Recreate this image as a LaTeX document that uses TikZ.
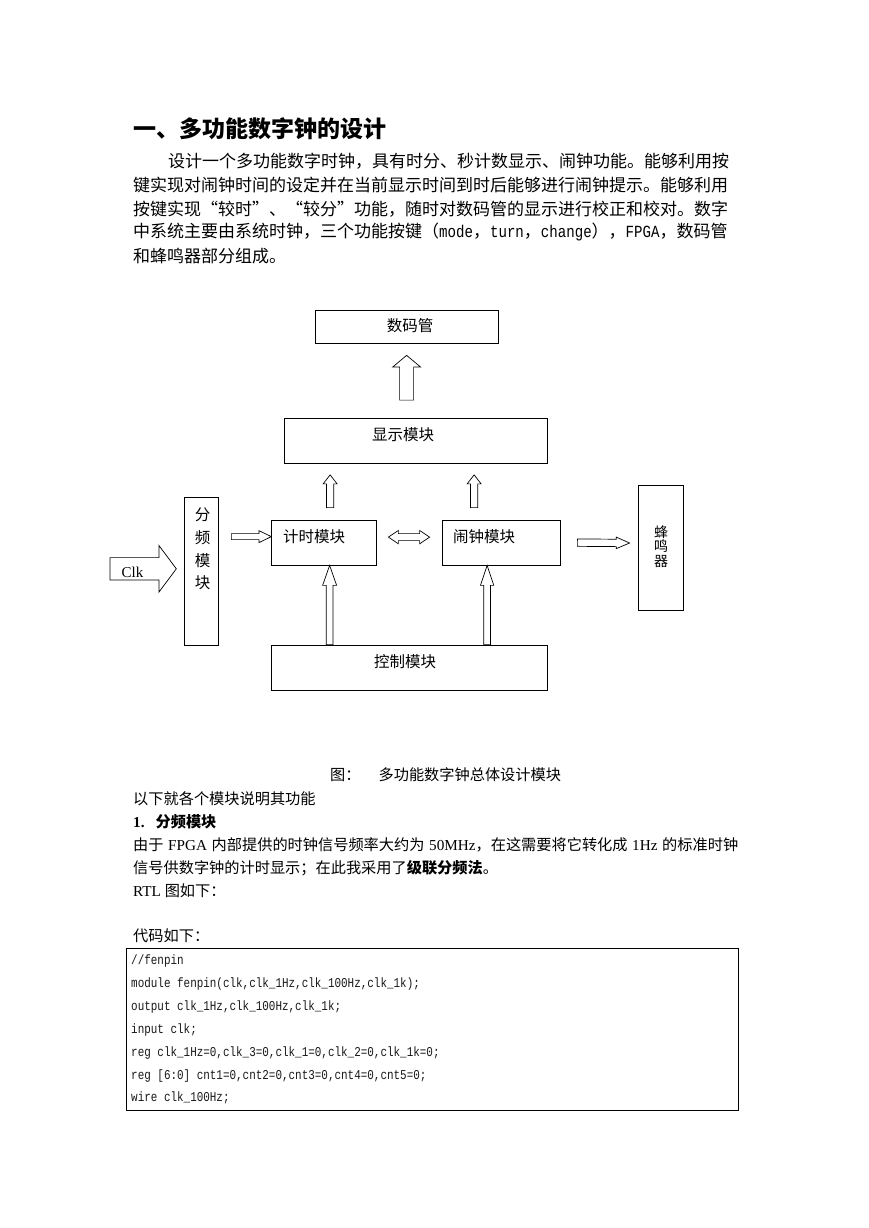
\documentclass[tikz,border=0pt]{standalone}
\usepackage{fontspec}
\setmainfont{Liberation Serif}
\newfontfamily\cjk{Noto Sans CJK SC}
\newfontfamily\codefont[FakeStretch=0.81]{Liberation Mono}
\newfontfamily\monob[FakeStretch=0.83]{Liberation Mono}
\usetikzlibrary{calc}
\XeTeXlinebreaklocale "zh"
\XeTeXlinebreakskip=0pt plus 4pt
\tikzset{
  box/.style={draw, line width=0.75pt, inner sep=0pt},
  blk/.style={draw, fill=white, line width=0.7pt, line join=miter},
  dtext/.style={font=\cjk\fontsize{15.5}{18}\selectfont, inner sep=0pt},
  ptext/.style={anchor=west, inner sep=0pt, font=\cjk\fontsize{17}{20}\selectfont},
  ltext/.style={anchor=west, inner sep=0pt, font=\fontsize{15.2}{18}\selectfont},
  codeln/.style={anchor=west, inner sep=0pt, font=\codefont\fontsize{13.5}{16}\selectfont, text=black!90}
}
% hollow block arrow: from, to, shaft half width, head half width, head length
\newcommand\blockarr[5]{%
  \path let \p1=(#1), \p2=(#2) in \pgfextra{%
    \pgfmathsetmacro\baang{atan2(\y2-\y1,\x2-\x1)}%
    \pgfmathsetmacro\balen{veclen(\x2-\x1,\y2-\y1)}%
    \xdef\baang{\baang}\xdef\balen{\balen}\xdef\bax{\x1}\xdef\bay{\y1}};
  \begin{scope}[shift={(\bax,\bay)}, rotate=\baang]
    \draw[blk] (0pt,-#3pt) -- ({\balen pt-#5pt},-#3pt) -- ({\balen pt-#5pt},-#4pt)
      -- (\balen pt,0pt) -- ({\balen pt-#5pt},#4pt) -- ({\balen pt-#5pt},#3pt)
      -- (0pt,#3pt) -- cycle;
  \end{scope}}
% hollow double arrow
\newcommand\dblarr[5]{%
  \path let \p1=(#1), \p2=(#2) in \pgfextra{%
    \pgfmathsetmacro\baang{atan2(\y2-\y1,\x2-\x1)}%
    \pgfmathsetmacro\balen{veclen(\x2-\x1,\y2-\y1)}%
    \xdef\baang{\baang}\xdef\balen{\balen}\xdef\bax{\x1}\xdef\bay{\y1}};
  \begin{scope}[shift={(\bax,\bay)}, rotate=\baang]
    \draw[blk] (0pt,0pt) -- (#5pt,-#4pt) -- (#5pt,-#3pt) -- ({\balen pt-#5pt},-#3pt)
      -- ({\balen pt-#5pt},-#4pt) -- (\balen pt,0pt) -- ({\balen pt-#5pt},#4pt)
      -- ({\balen pt-#5pt},#3pt) -- (#5pt,#3pt) -- (#5pt,#4pt) -- cycle;
  \end{scope}}
\begin{document}
\begin{tikzpicture}[x=1pt, y=-1pt]
\useasboundingbox (0,0) rectangle (869,1228);
\fill[white] (0,0) rectangle (869,1228);

% ---------- heading and paragraph ----------
\node[anchor=west, inner sep=0pt, font=\cjk\bfseries\fontsize{23}{27}\selectfont] (title) at (133,129) {一、多功能数字钟的设计};
\node[ptext] (p1) at (168,161) {\hbox to 570pt{设计一个多功能数字时钟，具有时分、秒计数显示、闹钟功能。能够利用按}};
\node[ptext] (p2) at (133,185) {\hbox to 605pt{键实现对闹钟时间的设定并在当前显示时间到时后能够进行闹钟提示。能够利用}};
\node[ptext] (p3) at (133,209) {\hbox to 605pt{按键实现“较时”、“较分”功能，随时对数码管的显示进行校正和校对。数字}};
\node[ptext] (p4) at (133,232) {\hbox to 605pt{中系统主要由系统时钟，三个功能按键（{\monob mode}，{\monob turn}，{\monob change}），{\monob FPGA}，数码管}};
\node[ptext] (p5) at (133,256) {和蜂鸣器部分组成。};

% ---------- diagram boxes ----------
\node[box, minimum width=183pt, minimum height=33pt] (smg) at (406.5,326.5) {};
\node[dtext] (smgt) at (410,326) {数码管};
\node[box, minimum width=263pt, minimum height=45pt] (disp) at (415.5,440.5) {};
\node[dtext] (dispt) at (403,435) {显示模块};
\node[box, minimum width=34pt, minimum height=148pt] (fp) at (201,571) {};
\node[dtext, align=center, font=\cjk\fontsize{15.5}{22.7}\selectfont] (fpt) at (202.7,549) {分\\频\\模\\块};
\node[box, minimum width=105pt, minimum height=45pt] (js) at (323.5,542.5) {};
\node[dtext, anchor=west] (jst) at (283,537) {计时模块};
\node[box, minimum width=118pt, minimum height=45pt] (nz) at (501,542.5) {};
\node[dtext, anchor=west] (nzt) at (453,537) {闹钟模块};
\node[box, minimum width=45pt, minimum height=125pt] (fmq) at (660.7,547.5) {};
\node[dtext, align=center, font=\cjk\fontsize{14}{14.6}\selectfont] (fmqt) at (661,546.5) {蜂\\鸣\\器};
\node[box, minimum width=276pt, minimum height=45pt] (kz) at (409,667.5) {};
\node[dtext] (kzt) at (405,662) {控制模块};

% ---------- block arrows ----------
\coordinate (a1s) at ($(disp.north west)+(123,-17.5)$);
\coordinate (a1e) at ($(smg.south west)+(92,12)$);
\blockarr{a1s}{a1e}{7}{14}{11.7}
\coordinate (a2s) at ($(js.north west)+(59.5,-12)$);
\coordinate (a2e) at ($(disp.south west)+(46.5,11.5)$);
\blockarr{a2s}{a2e}{3.7}{7}{9}
\coordinate (a3s) at ($(nz.north west)+(32.5,-12)$);
\coordinate (a3e) at ($(disp.south west)+(190.5,11.5)$);
\blockarr{a3s}{a3e}{3.7}{7}{9}
\coordinate (a4s) at ($(fp.north east)+(13,40)$);
\coordinate (a4e) at ($(js.north west)+(0.7,17)$);
\blockarr{a4s}{a4e}{3}{6}{12.4}
\coordinate (a5s) at ($(js.north east)+(12,17.5)$);
\coordinate (a5e) at ($(nz.north west)+(-12,17.5)$);
\dblarr{a5s}{a5e}{3.5}{6.7}{10}
\coordinate (a6s) at ($(nz.north east)+(17,23)$);
\coordinate (a6e) at ($(fmq.west)+(-8.3,-4.5)$);
\blockarr{a6s}{a6e}{3.7}{5.8}{13.3}
\coordinate (a7s) at ($(kz.north west)+(59,0)$);
\coordinate (a7e) at ($(js.south west)+(59,0)$);
\blockarr{a7s}{a7e}{3.3}{7}{20}
\coordinate (a8s) at ($(kz.north west)+(216.5,0)$);
\coordinate (a8e) at ($(nz.south west)+(45.5,0)$);
\blockarr{a8s}{a8e}{3.3}{6.7}{20}
\coordinate (clkin) at (110,568.8);
\coordinate (clkout) at ($(fp.west)+(-7.3,-2.2)$);
\blockarr{clkin}{clkout}{11.2}{23.3}{17.4}
\node[anchor=base west, inner sep=0pt, font=\fontsize{15}{17}\selectfont] (clk) at (121.5,577) {Clk};

% ---------- caption and following text ----------
\node[ltext] (cap) at (330,775) {{\cjk 图：}\hspace{18pt}{\cjk 多功能数字钟总体设计模块}};
\node[ltext] (q1) at (133,799) {{\cjk 以下就各个模块说明其功能}};
\node[ltext] (q2) at (133,822) {{\bfseries 1.}\hspace{11pt}{\cjk\bfseries 分频模块}};
\node[ltext] (q3) at (133,845) {\hbox to 605pt{{\cjk 由于} FPGA {\cjk 内部提供的时钟信号频率大约为} 50MHz{\cjk ，在这需要将它转化成} 1Hz {\cjk 的标准时钟}}};
\node[ltext] (q4) at (133,868) {{\cjk 信号供数字钟的计时显示；在此我采用了}{\cjk\bfseries 级联分频法}{\cjk 。}};
\node[ltext] (q5) at (133,891) {RTL {\cjk 图如下：}};
\node[ltext] (q6) at (133,936) {{\cjk 代码如下：}};

% ---------- code box ----------
\node[box, minimum width=612pt, minimum height=162pt] (codebox) at (432,1029) {};
\node[codeln] (c1) at (131,961) {//fenpin};
\node[codeln] (c2) at (131,984) {module fenpin(clk,clk\_1Hz,clk\_100Hz,clk\_1k);};
\node[codeln] (c3) at (131,1007) {output clk\_1Hz,clk\_100Hz,clk\_1k;};
\node[codeln] (c4) at (131,1030) {input clk;};
\node[codeln] (c5) at (131,1053) {reg clk\_1Hz=0,clk\_3=0,clk\_1=0,clk\_2=0,clk\_1k=0;};
\node[codeln] (c6) at (131,1076) {reg [6:0] cnt1=0,cnt2=0,cnt3=0,cnt4=0,cnt5=0;};
\node[codeln] (c7) at (131,1098) {wire clk\_100Hz;};
\end{tikzpicture}
\end{document}
